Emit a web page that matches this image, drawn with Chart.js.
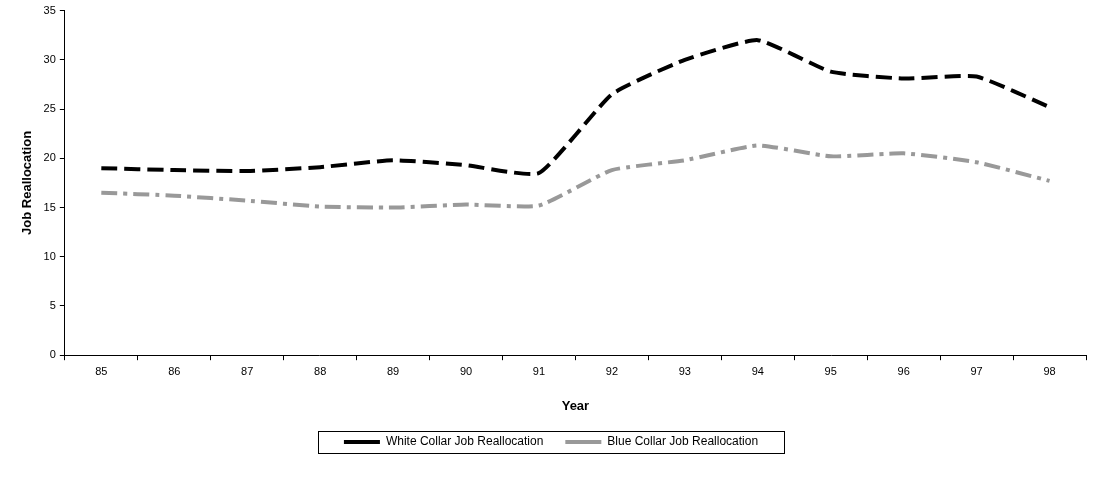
<!DOCTYPE html>
<html>
<head>
<meta charset="utf-8">
<script src="https://cdn.jsdelivr.net/npm/chart.js@4"></script>
<style>
  body { margin: 0; background: #fff; }
  #wrap { width: 1116px; height: 487px; }
</style>
</head>
<body>
<div id="wrap"><canvas id="myChart" width="1116" height="487"></canvas></div>
<script>
var years = ["85", "86", "87", "88", "89", "90", "91", "92", "93", "94", "95", "96", "97", "98"];
var whiteCollar = [19.0, 18.8, 18.7, 19.1, 19.8, 19.3, 18.5, 26.5, 30.0, 32.0, 28.8, 28.1, 28.3, 25.2];
var blueCollar = [16.5, 16.2, 15.7, 15.1, 15.0, 15.3, 15.2, 18.8, 19.8, 21.3, 20.2, 20.5, 19.6, 17.7];

Chart.defaults.font.family = "'Liberation Sans', Arial, sans-serif";
Chart.defaults.font.size = 11;
Chart.defaults.color = "#000";

// draws a thin box round the legend items, like the original
var legendBox = {
  id: "legendBox",
  afterDraw: function (chart) {
    var hb = chart.legend.legendHitBoxes;
    if (!hb || !hb.length) return;
    var x0 = hb[0].left, x1 = hb[0].left + hb[0].width;
    var y0 = hb[0].top, y1 = hb[0].top + hb[0].height;
    hb.forEach(function (b) {
      x0 = Math.min(x0, b.left); x1 = Math.max(x1, b.left + b.width);
      y0 = Math.min(y0, b.top); y1 = Math.max(y1, b.top + b.height);
    });
    var c = chart.ctx;
    c.save();
    c.strokeStyle = "#000";
    c.lineWidth = 1;
    c.strokeRect(Math.round(x0 - 26) + 0.5, Math.round(y0 - 5) + 0.5, Math.round(x1 - x0 + 52), Math.round(y1 - y0 + 10));
    c.restore();
  }
};

new Chart(document.getElementById("myChart").getContext("2d"), {
  type: "line",
  data: {
    labels: years,
    datasets: [
      {
        label: "White Collar Job Reallocation",
        data: whiteCollar,
        borderColor: "#000",
        backgroundColor: "#000",
        borderWidth: 4,
        borderDash: [16, 7],
        pointRadius: 0,
        tension: 0.15
      },
      {
        label: "Blue Collar Job Reallocation",
        data: blueCollar,
        borderColor: "#999",
        backgroundColor: "#999",
        borderWidth: 4,
        borderDash: [16, 6, 4, 6],
        pointRadius: 0,
        tension: 0.15
      }
    ]
  },
  options: {
    responsive: false,
    animation: false,
    layout: { padding: { left: 16, right: 30, top: 10, bottom: 29 } },
    plugins: {
      legend: {
        position: "bottom",
        labels: {
          boxWidth: 36,
          boxHeight: 0,
          padding: 22,
          font: { size: 12 },
          generateLabels: function (chart) {
            return chart.data.datasets.map(function (ds, i) {
              return {
                text: ds.label,
                fillStyle: ds.borderColor,
                strokeStyle: ds.borderColor,
                lineWidth: 4,
                lineDash: [],
                datasetIndex: i,
                fontColor: "#000"
              };
            });
          }
        }
      },
      tooltip: { enabled: false }
    },
    scales: {
      x: {
        offset: true,
        grid: { display: true, drawOnChartArea: false, drawTicks: true, offset: true, color: "#000", tickLength: 5 },
        border: { color: "#000" },
        ticks: { padding: 5 },
        title: { display: true, text: "Year", font: { size: 13, weight: "bold" }, padding: { top: 15, bottom: 0 } }
      },
      y: {
        min: 0,
        max: 35,
        grid: { display: true, drawOnChartArea: false, drawTicks: true, color: "#000", tickLength: 5 },
        border: { color: "#000" },
        ticks: { stepSize: 5, padding: 4 },
        title: { display: true, text: "Job Reallocation", font: { size: 13, weight: "bold" } }
      }
    }
  },
  plugins: [legendBox]
});
</script>
</body>
</html>
